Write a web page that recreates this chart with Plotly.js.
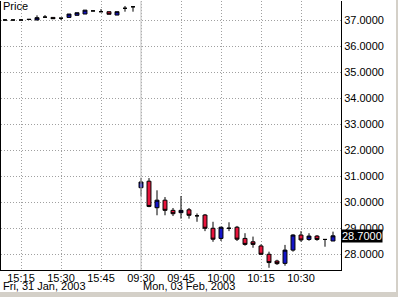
<!DOCTYPE html>
<html>
<head>
<meta charset="utf-8">
<script src="https://cdn.plot.ly/plotly-3.0.1.min.js"></script>
<style>
  html, body { margin: 0; padding: 0; background: #d4d0c8; width: 398px; height: 297px; overflow: hidden; }
  #chart { width: 396px; height: 292px; }
</style>
</head>
<body>
<div id="chart"></div>
<script>
// 3-minute bars: Fri 31 Jan 2003 (15:09-15:57) and Mon 03 Feb 2003 (09:30-10:42)
const times = ['15:09','15:12','15:15','15:18','15:21','15:24','15:27','15:30','15:33','15:36',
               '15:39','15:42','15:45','15:48','15:51','15:54','15:57',
               '09:30','09:33','09:36','09:39','09:42','09:45','09:48','09:51','09:54',
               '09:57','10:00','10:03','10:06','10:09','10:12','10:15','10:18','10:21',
               '10:24','10:27','10:30','10:33','10:36','10:39','10:42'];
const open  = [37.00,37.00,37.00,37.03,37.00,37.11,37.10,37.07,37.10,37.18,
               37.23,37.35,37.32,37.32,37.19,37.45,37.51,
               30.55,30.80,29.78,30.07,29.68,29.59,29.70,29.47,29.50,
               28.99,28.60,28.99,29.03,28.60,28.47,28.31,27.99,27.73,
               27.64,28.15,28.73,28.56,28.69,28.56,28.50];
const high  = [37.03,37.02,37.02,37.04,37.18,37.19,37.10,37.07,37.23,37.28,
               37.38,37.35,37.42,37.32,37.32,37.54,37.51,
               30.92,30.92,30.45,30.19,29.77,30.23,29.77,29.56,29.54,
               29.24,29.05,29.22,29.08,28.80,28.67,28.37,28.09,27.78,
               28.35,28.76,28.88,28.80,28.73,28.57,28.86];
const low   = [37.00,37.00,37.00,37.01,37.00,37.11,37.04,37.00,37.10,37.18,
               37.23,37.35,37.32,37.22,37.19,37.32,37.32,
               30.22,29.80,29.49,29.49,29.46,29.36,29.36,29.24,28.88,
               28.47,28.50,28.88,28.50,28.32,28.24,27.96,27.47,27.58,
               27.55,28.09,28.47,28.51,28.51,28.28,28.50];
const close = [37.00,37.00,37.00,37.02,37.09,37.11,37.05,37.07,37.23,37.28,
               37.38,37.35,37.32,37.22,37.32,37.45,37.51,
               30.77,29.83,30.07,29.68,29.55,29.68,29.49,29.47,28.99,
               28.57,29.03,28.99,28.57,28.37,28.37,27.99,27.67,27.63,
               28.15,28.73,28.54,28.69,28.56,28.56,28.70];
const tickLabels = ['15:15','15:30','15:45','09:30','09:45','10:00','10:15','10:30'];
const dayLabels  = ['Fri, 31 Jan, 2003','Mon, 03 Feb, 2003'];
const dayStarts  = ['15:09','09:30'];
const lastPrice  = 28.70;

const font = {family: 'Arial, "Liberation Sans", sans-serif', size: 11, color: '#000'};

const trace = {
  type: 'candlestick',
  x: times, open: open, high: high, low: low, close: close,
  increasing: {line: {color: '#000', width: 1}, fillcolor: '#1414c8'},
  decreasing: {line: {color: '#000', width: 1}, fillcolor: '#e8143c'},
  whiskerwidth: 0,
  hoverinfo: 'skip',
  showlegend: false
};

const layout = {
  width: 396, height: 292,
  margin: {l: 1, r: 55, t: 1, b: 22, pad: 0},
  paper_bgcolor: '#ffffff', plot_bgcolor: '#ffffff',
  font: font,
  showlegend: false,
  xaxis: {
    type: 'category',
    categoryorder: 'array', categoryarray: times,
    range: [-0.5, 42],
    rangeslider: {visible: false},
    tickvals: tickLabels, ticktext: tickLabels,
    ticks: '', ticklabelstandoff: -2,
    showgrid: true, gridcolor: '#a0a0a0', griddash: '1px,2px', gridwidth: 1,
    showline: true, linecolor: '#000', linewidth: 1, mirror: false,
    zeroline: false, tickfont: font, fixedrange: true
  },
  yaxis: {
    side: 'right',
    range: [27.385, 37.731],
    tick0: 28, dtick: 1, tickformat: '.4f',
    ticks: '', showgrid: true, gridcolor: '#a0a0a0', griddash: '1px,2px', gridwidth: 1,
    showline: true, linecolor: '#000', linewidth: 1, mirror: true,
    zeroline: false, tickfont: font, fixedrange: true
  },
  shapes: [{
    type: 'line', xref: 'x', yref: 'paper', x0: dayStarts[1], x1: dayStarts[1], y0: 0, y1: 1,
    line: {color: '#c0c0c0', width: 1}, layer: 'above'
  }],
  annotations: [
    {text: 'Price', xref: 'paper', yref: 'paper', x: 0, y: 1, xanchor: 'left', yanchor: 'top',
     xshift: 0, yshift: 3, showarrow: false, font: font},
    {text: dayLabels[0], xref: 'paper', yref: 'paper', x: 0, y: 0, xanchor: 'left', yanchor: 'top',
     xshift: 0, yshift: -8, showarrow: false, font: font},
    {text: dayLabels[1], xref: 'x', yref: 'paper', x: dayStarts[1], y: 0, xanchor: 'left', yanchor: 'top',
     xshift: 0, yshift: -8, showarrow: false, font: font},
    {text: lastPrice.toFixed(4), xref: 'paper', yref: 'y', x: 1, y: lastPrice, xanchor: 'left', yanchor: 'middle',
     showarrow: false, bgcolor: '#000', borderpad: 0, font: {family: font.family, size: 11, color: '#fff'}}
  ]
};

Plotly.newPlot('chart', [trace], layout, {displayModeBar: false, staticPlot: true});
</script>
</body>
</html>
